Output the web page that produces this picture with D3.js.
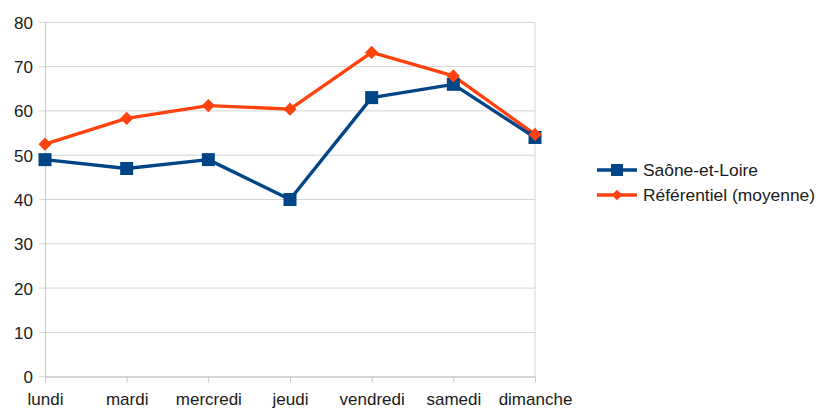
<!DOCTYPE html>
<html>
<head>
<meta charset="utf-8">
<script src="https://cdn.jsdelivr.net/npm/d3@7"></script>
<style>
  body { margin: 0; background: #fff; }
  text { font-family: "Liberation Sans", Arial, sans-serif; fill: #1a1a1a; }
</style>
</head>
<body>
<svg id="chart" width="819" height="408"></svg>
<script>
const days = ['lundi', 'mardi', 'mercredi', 'jeudi', 'vendredi', 'samedi', 'dimanche']
const saone = [49, 47, 49, 40, 63, 66, 54]
const referentiel = [52.5, 58.3, 61.2, 60.4, 73.2, 67.9, 54.7]
const yTicks = [0, 10, 20, 30, 40, 50, 60, 70, 80]
const seriesNames = ['Saône-et-Loire', 'Référentiel (moyenne)']

const svg = d3.select('#chart')
const plotLeft = 45, plotRight = 535, plotTop = 22.3, plotBottom = 376.7

const x = d3.scalePoint().domain(days).range([plotLeft, plotRight])
const y = d3.scaleLinear().domain([0, 80]).range([plotBottom, plotTop])

// grid
svg.append('g')
  .selectAll('line')
  .data(yTicks)
  .enter()
  .append('line')
  .attr('x1', plotLeft - 6).attr('x2', plotRight)
  .attr('y1', d => y(d)).attr('y2', d => y(d))
  .attr('stroke', '#d4d4d4').attr('stroke-width', 1)

svg.append('line')
  .attr('x1', plotRight).attr('x2', plotRight).attr('y1', plotTop).attr('y2', plotBottom)
  .attr('stroke', '#d4d4d4')

// y axis
const yAxis = svg.append('g')
  .attr('transform', `translate(${plotLeft},0)`)
  .call(d3.axisLeft(y).tickValues(yTicks).tickSize(0).tickPadding(12))
yAxis.select('.domain').attr('stroke', '#c8c8c8')
yAxis.selectAll('text').style('font-size', '17px').attr('dy', '0.35em')

// x axis
const xAxis = svg.append('g')
  .attr('transform', `translate(0,${plotBottom})`)
  .call(d3.axisBottom(x).tickSizeInner(6).tickSizeOuter(0).tickPadding(10))
xAxis.select('.domain').attr('stroke', '#c8c8c8')
xAxis.selectAll('line').attr('stroke', '#c8c8c8')
xAxis.selectAll('text').style('font-size', '17px')

const line = d3.line().x((d, i) => x(days[i])).y(d => y(d))

// référentiel
svg.append('path').datum(referentiel)
  .attr('d', line).attr('fill', 'none')
  .attr('stroke', '#ff420e').attr('stroke-width', 3.4).attr('stroke-linejoin', 'round')

// saône-et-loire
svg.append('path').datum(saone)
  .attr('d', line).attr('fill', 'none')
  .attr('stroke', '#004586').attr('stroke-width', 3.4).attr('stroke-linejoin', 'round')

svg.selectAll('.sq')
  .data(saone)
  .enter()
  .append('rect')
  .attr('class', 'sq')
  .attr('x', (d, i) => x(days[i]) - 6.5)
  .attr('y', d => y(d) - 6.5)
  .attr('width', 13).attr('height', 13)
  .attr('fill', '#004586')

const diamond = d3.symbol().type(d3.symbolDiamond2).size(110)
svg.selectAll('.dm')
  .data(referentiel)
  .enter()
  .append('path')
  .attr('class', 'dm')
  .attr('d', diamond)
  .attr('transform', (d, i) => `translate(${x(days[i])},${y(d)})`)
  .attr('fill', '#ff420e')

// legend
const legend = svg.append('g').attr('transform', 'translate(597,170)')
const colors = ['#004586', '#ff420e']
seriesNames.forEach((name, i) => {
  const g = legend.append('g').attr('transform', `translate(0,${i * 25})`)
  g.append('line').attr('x1', 0).attr('x2', 40).attr('y1', 0).attr('y2', 0)
    .attr('stroke', colors[i]).attr('stroke-width', 3.4)
  if (i === 0) {
    g.append('rect').attr('x', 14).attr('y', -6).attr('width', 12).attr('height', 12).attr('fill', colors[i])
  } else {
    g.append('path').attr('d', d3.symbol().type(d3.symbolDiamond2).size(70)).attr('transform', 'translate(20,0)').attr('fill', colors[i])
  }
  g.append('text').attr('x', 46).attr('y', 0).attr('dy', '0.35em')
    .style('font-size', '17.4px').text(name)
})
</script>
</body>
</html>
